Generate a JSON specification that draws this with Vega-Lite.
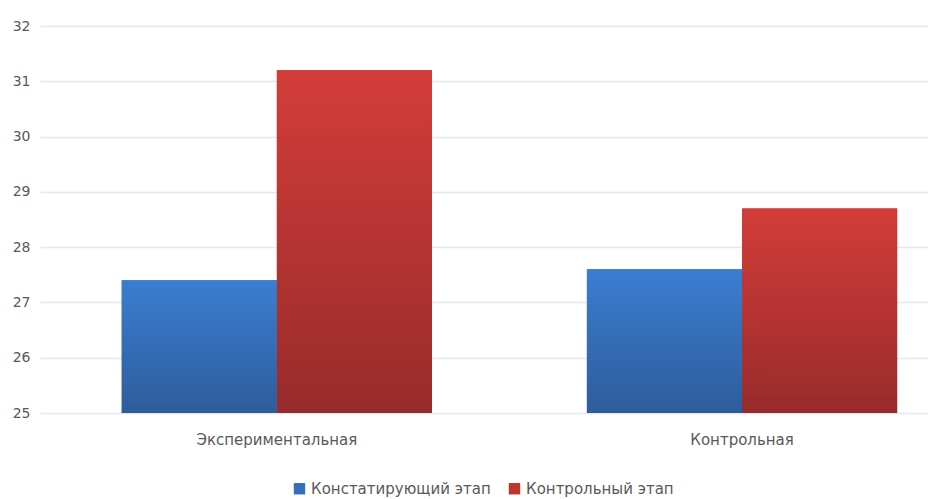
{
  "$schema": "https://vega.github.io/schema/vega-lite/v6.json",
  "width": 888,
  "height": 387,
  "autosize": {"type": "none"},
  "padding": {"left": 40, "top": 26, "right": 0, "bottom": 86},
  "background": "white",
  "config": {"view": {"stroke": null}},
  "data": {
    "values": [
      {"group": "Экспериментальная", "series": "Констатирующий этап", "value": 27.4},
      {"group": "Экспериментальная", "series": "Контрольный этап", "value": 31.2},
      {"group": "Контрольная", "series": "Констатирующий этап", "value": 27.6},
      {"group": "Контрольная", "series": "Контрольный этап", "value": 28.7}
    ]
  },
  "encoding": {
    "x": {
      "field": "group",
      "type": "nominal",
      "sort": ["Экспериментальная", "Контрольная"],
      "scale": {"paddingInner": 0.333, "paddingOuter": 0.121, "align": 0.726},
      "axis": {
        "title": null,
        "labelAngle": 0,
        "domain": false,
        "ticks": false,
        "labelPadding": 19,
        "labelFont": "DejaVu Sans",
        "labelFontSize": 15,
        "labelColor": "#595959"
      }
    },
    "xOffset": {
      "field": "series",
      "type": "nominal",
      "sort": ["Констатирующий этап", "Контрольный этап"],
      "scale": {"paddingInner": 0, "paddingOuter": 0}
    },
    "y": {
      "field": "value",
      "type": "quantitative",
      "scale": {"domain": [25, 32], "zero": false, "nice": false},
      "axis": {
        "title": null,
        "values": [25, 26, 27, 28, 29, 30, 31, 32],
        "labelOverlap": false,
        "domain": false,
        "ticks": false,
        "labelPadding": 10,
        "labelFont": "DejaVu Sans",
        "labelFontSize": 14,
        "labelColor": "#595959",
        "gridColor": "#E3E7EE",
        "gridWidth": 1.5
      }
    },
    "y2": {"datum": 25}
  },
  "layer": [
    {
      "mark": {"type": "bar"},
      "encoding": {
        "color": {
          "field": "series",
          "type": "nominal",
          "sort": ["Констатирующий этап", "Контрольный этап"],
          "scale": {"range": ["#3470BD", "#C0332F"]},
          "legend": {
            "title": null,
            "orient": "none",
            "direction": "horizontal",
            "legendX": 252,
            "legendY": 455,
            "symbolType": "square",
            "symbolSize": 130,
            "symbolStrokeWidth": 0,
            "columnPadding": 16,
            "labelLimit": 0,
            "labelFont": "DejaVu Sans",
            "labelFontSize": 15,
            "labelColor": "#595959"
          }
        }
      }
    },
    {
      "transform": [{"filter": "datum.series === 'Констатирующий этап'"}],
      "mark": {
        "type": "bar",
        "fill": {
          "gradient": "linear", "x1": 0, "y1": 0, "x2": 0, "y2": 1,
          "stops": [{"offset": 0, "color": "#3A7ED0"}, {"offset": 1, "color": "#2E5C9C"}]
        }
      }
    },
    {
      "transform": [{"filter": "datum.series === 'Контрольный этап'"}],
      "mark": {
        "type": "bar",
        "fill": {
          "gradient": "linear", "x1": 0, "y1": 0, "x2": 0, "y2": 1,
          "stops": [{"offset": 0, "color": "#D33D39"}, {"offset": 1, "color": "#982B2B"}]
        }
      }
    }
  ]
}
